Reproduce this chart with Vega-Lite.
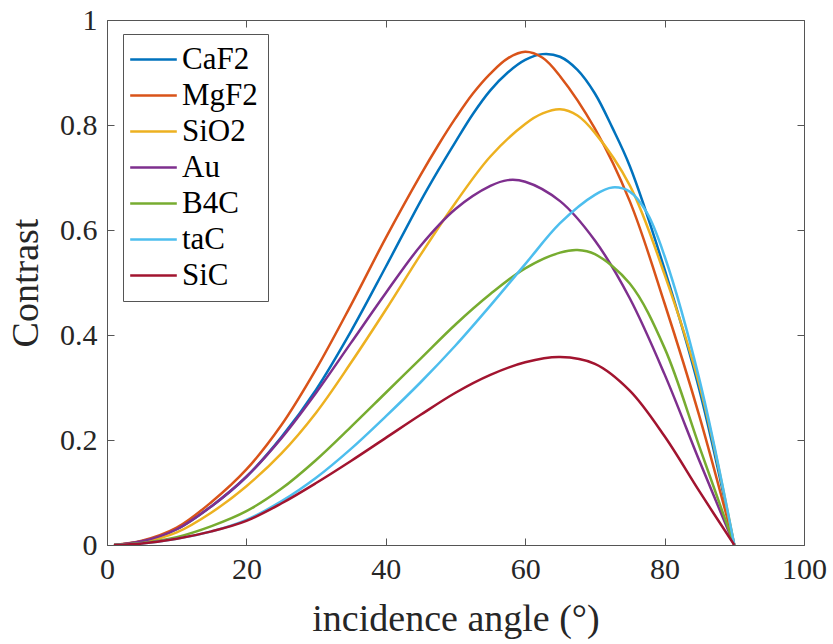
{
  "$schema": "https://vega.github.io/schema/vega-lite/v6.json",
  "width": 697,
  "height": 525,
  "autosize": {"type": "none"},
  "padding": {"left": 107, "top": 20, "right": 29, "bottom": 99},
  "background": "white",
  "config": {
    "view": {"stroke": null},
    "axis": {
      "grid": false,
      "labelFont": "Liberation Serif",
      "labelFontSize": 30,
      "labelColor": "#262626",
      "titleFont": "Liberation Serif",
      "titleFontSize": 38,
      "titleFontWeight": "normal",
      "titleColor": "#262626",
      "domainColor": "#555555",
      "tickColor": "#555555",
      "tickSize": -7,
      "labelFlush": false,
      "labelOverlap": false
    }
  },
  "data": {"values": [
    {"angle": 1, "material": "CaF2", "contrast": 0},
    {"angle": 5, "material": "CaF2", "contrast": 0.007},
    {"angle": 10, "material": "CaF2", "contrast": 0.03},
    {"angle": 15, "material": "CaF2", "contrast": 0.074},
    {"angle": 20, "material": "CaF2", "contrast": 0.13},
    {"angle": 25, "material": "CaF2", "contrast": 0.205},
    {"angle": 30, "material": "CaF2", "contrast": 0.296},
    {"angle": 35, "material": "CaF2", "contrast": 0.407},
    {"angle": 40, "material": "CaF2", "contrast": 0.53},
    {"angle": 45, "material": "CaF2", "contrast": 0.655},
    {"angle": 47.5, "material": "CaF2", "contrast": 0.713},
    {"angle": 50, "material": "CaF2", "contrast": 0.768},
    {"angle": 52.5, "material": "CaF2", "contrast": 0.821},
    {"angle": 55, "material": "CaF2", "contrast": 0.866},
    {"angle": 57.5, "material": "CaF2", "contrast": 0.9},
    {"angle": 60, "material": "CaF2", "contrast": 0.924},
    {"angle": 62.5, "material": "CaF2", "contrast": 0.935},
    {"angle": 65, "material": "CaF2", "contrast": 0.93},
    {"angle": 67.5, "material": "CaF2", "contrast": 0.905},
    {"angle": 70, "material": "CaF2", "contrast": 0.86},
    {"angle": 72.5, "material": "CaF2", "contrast": 0.795},
    {"angle": 75, "material": "CaF2", "contrast": 0.722},
    {"angle": 80, "material": "CaF2", "contrast": 0.525},
    {"angle": 85, "material": "CaF2", "contrast": 0.295},
    {"angle": 90, "material": "CaF2", "contrast": 0},

    {"angle": 1, "material": "MgF2", "contrast": 0},
    {"angle": 5, "material": "MgF2", "contrast": 0.008},
    {"angle": 10, "material": "MgF2", "contrast": 0.033},
    {"angle": 15, "material": "MgF2", "contrast": 0.082},
    {"angle": 20, "material": "MgF2", "contrast": 0.144},
    {"angle": 25, "material": "MgF2", "contrast": 0.228},
    {"angle": 30, "material": "MgF2", "contrast": 0.335},
    {"angle": 35, "material": "MgF2", "contrast": 0.457},
    {"angle": 40, "material": "MgF2", "contrast": 0.585},
    {"angle": 45, "material": "MgF2", "contrast": 0.705},
    {"angle": 47.5, "material": "MgF2", "contrast": 0.761},
    {"angle": 50, "material": "MgF2", "contrast": 0.813},
    {"angle": 52.5, "material": "MgF2", "contrast": 0.86},
    {"angle": 55, "material": "MgF2", "contrast": 0.898},
    {"angle": 57.5, "material": "MgF2", "contrast": 0.927},
    {"angle": 60, "material": "MgF2", "contrast": 0.9395},
    {"angle": 62.5, "material": "MgF2", "contrast": 0.928},
    {"angle": 65, "material": "MgF2", "contrast": 0.893},
    {"angle": 70, "material": "MgF2", "contrast": 0.793},
    {"angle": 75, "material": "MgF2", "contrast": 0.655},
    {"angle": 80, "material": "MgF2", "contrast": 0.46},
    {"angle": 85, "material": "MgF2", "contrast": 0.245},
    {"angle": 90, "material": "MgF2", "contrast": 0},

    {"angle": 1, "material": "SiO2", "contrast": 0},
    {"angle": 5, "material": "SiO2", "contrast": 0.005},
    {"angle": 10, "material": "SiO2", "contrast": 0.024},
    {"angle": 15, "material": "SiO2", "contrast": 0.062},
    {"angle": 20, "material": "SiO2", "contrast": 0.112},
    {"angle": 25, "material": "SiO2", "contrast": 0.174},
    {"angle": 30, "material": "SiO2", "contrast": 0.252},
    {"angle": 35, "material": "SiO2", "contrast": 0.347},
    {"angle": 40, "material": "SiO2", "contrast": 0.448},
    {"angle": 45, "material": "SiO2", "contrast": 0.553},
    {"angle": 50, "material": "SiO2", "contrast": 0.652},
    {"angle": 55, "material": "SiO2", "contrast": 0.74},
    {"angle": 60, "material": "SiO2", "contrast": 0.802},
    {"angle": 62.5, "material": "SiO2", "contrast": 0.822},
    {"angle": 65, "material": "SiO2", "contrast": 0.83},
    {"angle": 67.5, "material": "SiO2", "contrast": 0.818},
    {"angle": 70, "material": "SiO2", "contrast": 0.785},
    {"angle": 75, "material": "SiO2", "contrast": 0.685},
    {"angle": 80, "material": "SiO2", "contrast": 0.515},
    {"angle": 85, "material": "SiO2", "contrast": 0.305},
    {"angle": 90, "material": "SiO2", "contrast": 0},

    {"angle": 1, "material": "Au", "contrast": 0},
    {"angle": 5, "material": "Au", "contrast": 0.007},
    {"angle": 10, "material": "Au", "contrast": 0.03},
    {"angle": 15, "material": "Au", "contrast": 0.074},
    {"angle": 20, "material": "Au", "contrast": 0.13},
    {"angle": 25, "material": "Au", "contrast": 0.203},
    {"angle": 30, "material": "Au", "contrast": 0.29},
    {"angle": 35, "material": "Au", "contrast": 0.385},
    {"angle": 40, "material": "Au", "contrast": 0.48},
    {"angle": 45, "material": "Au", "contrast": 0.57},
    {"angle": 50, "material": "Au", "contrast": 0.64},
    {"angle": 55, "material": "Au", "contrast": 0.684},
    {"angle": 57.5, "material": "Au", "contrast": 0.695},
    {"angle": 60, "material": "Au", "contrast": 0.692},
    {"angle": 65, "material": "Au", "contrast": 0.655},
    {"angle": 70, "material": "Au", "contrast": 0.58},
    {"angle": 75, "material": "Au", "contrast": 0.47},
    {"angle": 80, "material": "Au", "contrast": 0.325},
    {"angle": 85, "material": "Au", "contrast": 0.16},
    {"angle": 90, "material": "Au", "contrast": 0},

    {"angle": 1, "material": "B4C", "contrast": 0},
    {"angle": 5, "material": "B4C", "contrast": 0.004},
    {"angle": 10, "material": "B4C", "contrast": 0.015},
    {"angle": 15, "material": "B4C", "contrast": 0.036},
    {"angle": 20, "material": "B4C", "contrast": 0.0645},
    {"angle": 25, "material": "B4C", "contrast": 0.107},
    {"angle": 30, "material": "B4C", "contrast": 0.162},
    {"angle": 35, "material": "B4C", "contrast": 0.225},
    {"angle": 40, "material": "B4C", "contrast": 0.29},
    {"angle": 45, "material": "B4C", "contrast": 0.355},
    {"angle": 50, "material": "B4C", "contrast": 0.42},
    {"angle": 55, "material": "B4C", "contrast": 0.478},
    {"angle": 60, "material": "B4C", "contrast": 0.527},
    {"angle": 65, "material": "B4C", "contrast": 0.557},
    {"angle": 67.5, "material": "B4C", "contrast": 0.562},
    {"angle": 70, "material": "B4C", "contrast": 0.554},
    {"angle": 75, "material": "B4C", "contrast": 0.498},
    {"angle": 80, "material": "B4C", "contrast": 0.375},
    {"angle": 85, "material": "B4C", "contrast": 0.187},
    {"angle": 90, "material": "B4C", "contrast": 0},

    {"angle": 1, "material": "taC", "contrast": 0},
    {"angle": 5, "material": "taC", "contrast": 0.003},
    {"angle": 10, "material": "taC", "contrast": 0.012},
    {"angle": 15, "material": "taC", "contrast": 0.026},
    {"angle": 20, "material": "taC", "contrast": 0.048},
    {"angle": 25, "material": "taC", "contrast": 0.083},
    {"angle": 30, "material": "taC", "contrast": 0.128},
    {"angle": 35, "material": "taC", "contrast": 0.183},
    {"angle": 40, "material": "taC", "contrast": 0.245},
    {"angle": 45, "material": "taC", "contrast": 0.31},
    {"angle": 50, "material": "taC", "contrast": 0.38},
    {"angle": 55, "material": "taC", "contrast": 0.456},
    {"angle": 60, "material": "taC", "contrast": 0.535},
    {"angle": 65, "material": "taC", "contrast": 0.613},
    {"angle": 70, "material": "taC", "contrast": 0.667},
    {"angle": 72.5, "material": "taC", "contrast": 0.681},
    {"angle": 75, "material": "taC", "contrast": 0.673},
    {"angle": 77.5, "material": "taC", "contrast": 0.632},
    {"angle": 80, "material": "taC", "contrast": 0.55},
    {"angle": 85, "material": "taC", "contrast": 0.315},
    {"angle": 90, "material": "taC", "contrast": 0},

    {"angle": 1, "material": "SiC", "contrast": 0},
    {"angle": 5, "material": "SiC", "contrast": 0.003},
    {"angle": 10, "material": "SiC", "contrast": 0.012},
    {"angle": 15, "material": "SiC", "contrast": 0.026},
    {"angle": 20, "material": "SiC", "contrast": 0.046},
    {"angle": 25, "material": "SiC", "contrast": 0.079},
    {"angle": 30, "material": "SiC", "contrast": 0.118},
    {"angle": 35, "material": "SiC", "contrast": 0.16},
    {"angle": 40, "material": "SiC", "contrast": 0.204},
    {"angle": 45, "material": "SiC", "contrast": 0.248},
    {"angle": 50, "material": "SiC", "contrast": 0.29},
    {"angle": 55, "material": "SiC", "contrast": 0.324},
    {"angle": 60, "material": "SiC", "contrast": 0.348},
    {"angle": 65, "material": "SiC", "contrast": 0.358},
    {"angle": 70, "material": "SiC", "contrast": 0.345},
    {"angle": 75, "material": "SiC", "contrast": 0.294},
    {"angle": 80, "material": "SiC", "contrast": 0.207},
    {"angle": 85, "material": "SiC", "contrast": 0.102},
    {"angle": 90, "material": "SiC", "contrast": 0}
  ]},
  "layer": [
    {
      "mark": {"type": "line", "interpolate": "catmull-rom", "strokeWidth": 2.5, "clip": true},
      "encoding": {
        "x": {
          "field": "angle", "type": "quantitative",
          "scale": {"domain": [0, 100], "nice": false},
          "axis": {"orient": "bottom", "values": [0, 20, 40, 60, 80, 100], "format": "d",
                   "title": "incidence angle (°)", "labelPadding": 16, "titlePadding": 16}
        },
        "y": {
          "field": "contrast", "type": "quantitative",
          "scale": {"domain": [0, 1], "nice": false},
          "axis": {"orient": "left", "values": [0, 0.2, 0.4, 0.6, 0.8, 1], "format": "~g",
                   "title": "Contrast", "labelPadding": 17, "titlePadding": 14}
        },
        "color": {
          "field": "material", "type": "nominal",
          "scale": {
            "domain": ["CaF2", "MgF2", "SiO2", "Au", "B4C", "taC", "SiC"],
            "range": ["#0072BD", "#D95319", "#EDB120", "#7E2F8E", "#77AC30", "#4DBEEE", "#A2142F"]
          },
          "legend": {
            "orient": "none", "legendX": 16, "legendY": 14, "title": null,
            "symbolType": "M-2,0H2", "symbolSize": 543, "symbolStrokeWidth": 2.5,
            "symbolOffset": 5,
            "labelFont": "Liberation Serif", "labelFontSize": 31, "labelColor": "#000000",
            "strokeColor": "#555555", "fillColor": "white", "padding": 10,
            "rowPadding": 4, "labelOffset": 13, "labelLimit": 300
          }
        }
      }
    },
    {
      "mark": {"type": "line", "opacity": 0},
      "encoding": {
        "x": {
          "field": "angle", "type": "quantitative",
          "axis": {"orient": "top", "values": [0, 20, 40, 60, 80, 100], "labels": false, "title": null}
        },
        "y": {
          "field": "contrast", "type": "quantitative",
          "axis": {"orient": "right", "values": [0, 0.2, 0.4, 0.6, 0.8, 1], "labels": false, "title": null}
        },
        "detail": {"field": "material"}
      }
    }
  ],
  "resolve": {"axis": {"x": "independent", "y": "independent"}}
}
